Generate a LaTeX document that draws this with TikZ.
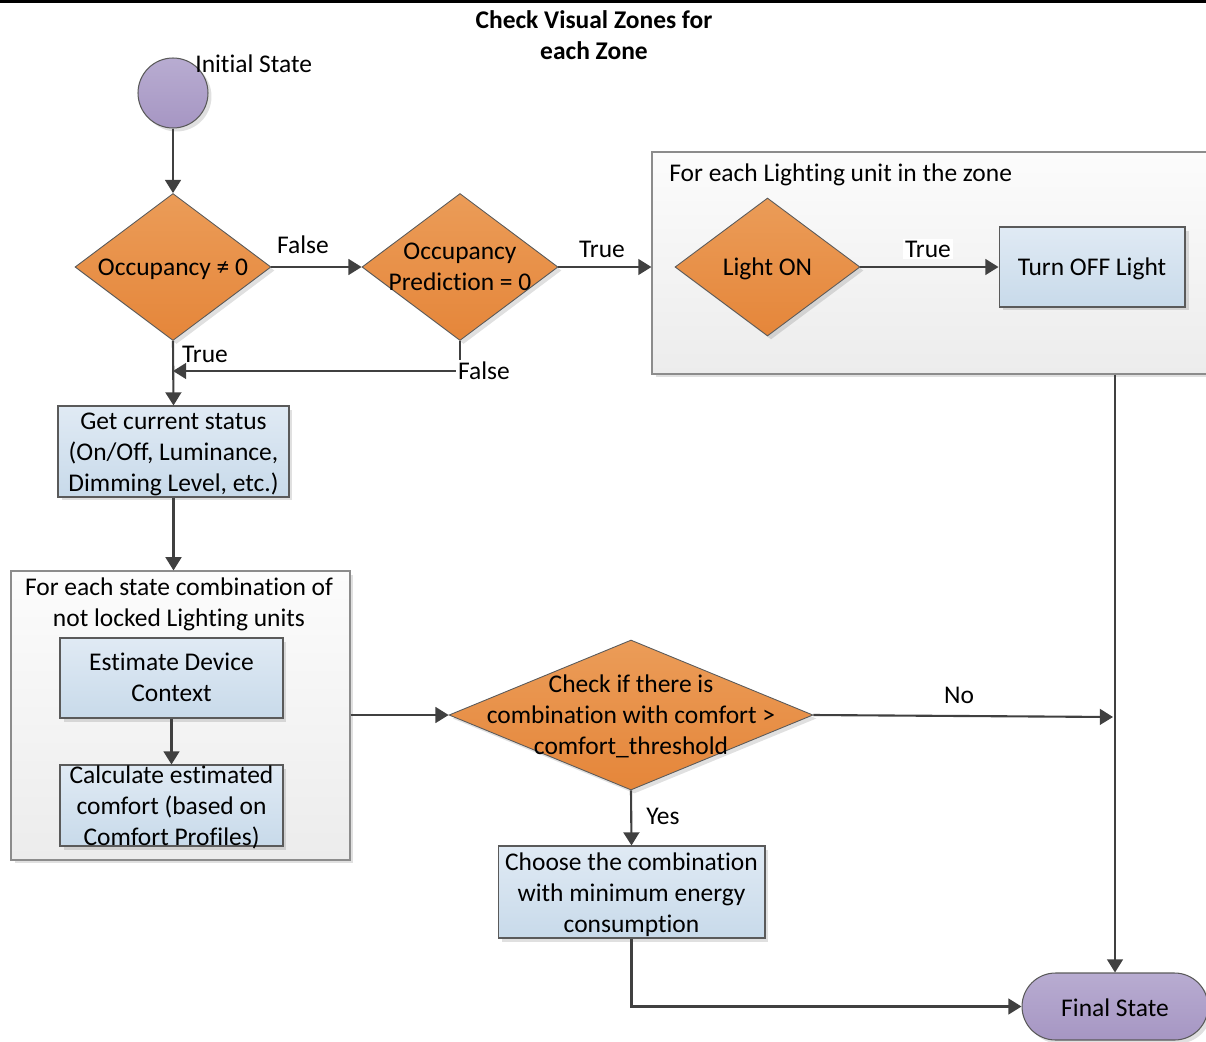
\documentclass[tikz,border=0pt]{standalone}
\usepackage{fontspec}
\setmainfont{Carlito}[Ligatures=NoCommon]
\usetikzlibrary{arrows.meta,shapes.geometric,shadows}

\definecolor{linegray}{HTML}{404040}
\definecolor{edgegray}{HTML}{5A5A5A}
\definecolor{frame}{HTML}{8C8C8C}
\definecolor{orangetop}{HTML}{EB9C58}
\definecolor{orangebot}{HTML}{E5863A}
\definecolor{bluetop}{HTML}{E0EAF4}
\definecolor{bluebot}{HTML}{C8DAEA}
\definecolor{purptop}{HTML}{B8ACD1}
\definecolor{purpbot}{HTML}{A696C3}
\definecolor{boxtop}{HTML}{FCFCFC}
\definecolor{boxbot}{HTML}{ECECEC}

\tikzset{
  x=0.02cm, y=-0.02cm,
  txt/.style={font={\fontsize{14.5}{17.6}\selectfont}, inner sep=0pt, align=center},
  softshadow/.style={drop shadow={shadow xshift=0.07cm, shadow yshift=-0.07cm, fill=black, opacity=0.12}},
  decision/.style={diamond, draw=edgegray, line width=0.5pt, top color=orangetop, bottom color=orangebot,
    inner sep=0pt, softshadow},
  process/.style={rectangle, draw=edgegray, line width=0.6pt, top color=bluetop, bottom color=bluebot,
    inner sep=0pt, softshadow},
  loopbox/.style={rectangle, draw=frame, line width=0.7pt, top color=boxtop, bottom color=boxbot,
    inner sep=0pt, softshadow},
  terminal/.style={draw=edgegray, line width=0.6pt, top color=purptop, bottom color=purpbot,
    inner sep=0pt, softshadow},
  flow/.style={draw=linegray, line width=1.2pt, -{Triangle[length=7.5pt,width=9pt]}},
  edgelabel/.style={txt},
}

\begin{document}
\begin{tikzpicture}
\useasboundingbox (0,0) rectangle (1206,1041);
\clip (0,0) rectangle (1206,1041);

% top rule
\fill[black] (0,0) rectangle (1206,2.5);

% title
\node[txt, font={\fontsize{14.5}{17.6}\selectfont\bfseries}] (title) at (594,35)
  {Check Visual Zones for\\each Zone};

% start state
\node[circle, terminal, minimum size=1.4cm] (init) at (173,93) {};
\node[txt, anchor=west] (initlbl) at (195,64) {Initial State};

% occupancy decisions
\node[decision, minimum width=3.92cm, minimum height=2.94cm] (d1) at (173,267) {};
\node[txt] (d1t) at (173,269) {Occupancy ≠ 0};
\node[decision, minimum width=3.92cm, minimum height=2.94cm] (d2) at (460,267) {};
\node[txt] (d2t) at (460,267) {Occupancy\\Prediction = 0};

% loop over lighting units
\node[loopbox, minimum width=11.4cm, minimum height=4.44cm] (c1) at (937,263) {};
\node[txt, anchor=west] (c1t) at (669,175) {For each Lighting unit in the zone};
\node[decision, minimum width=3.7cm, minimum height=2.76cm] (d3) at (767.5,267) {};
\node[txt] (d3t) at (767.5,269) {Light ON};
\node[process, minimum width=3.72cm, minimum height=1.6cm] (off) at (1092,267) {};
\node[txt] (offt) at (1092,269) {Turn OFF Light};

% current status
\node[process, minimum width=4.62cm, minimum height=1.82cm] (get) at (173.5,451.5) {};
\node[txt] (gett) at (173.5,454.5) {Get current status\\(On/Off, Luminance,\\Dimming Level, etc.)};

% loop over state combinations
\node[loopbox, minimum width=6.78cm, minimum height=5.78cm] (c2) at (180.5,715.5) {};
\node[txt] (c2t) at (179,604) {For each state combination of\\not locked Lighting units};
\node[process, minimum width=4.46cm, minimum height=1.6cm] (est) at (171.5,678) {};
\node[txt] (estt) at (171.5,677.5) {Estimate Device\\Context};
\node[process, minimum width=4.46cm, minimum height=1.62cm] (calc) at (171.5,805.5) {};
\node[txt] (calct) at (171.5,807.5) {Calculate estimated\\comfort (based on\\Comfort Profiles)};

% comfort decision
\node[decision, minimum width=7.28cm, minimum height=3.0cm] (d4) at (631,715) {};
\node[txt] (d4t) at (631,716) {Check if there is\\combination with comfort >\\comfort\_threshold};
\node[process, minimum width=5.34cm, minimum height=1.84cm] (choose) at (631.5,892) {};
\node[txt] (chooset) at (631.5,894.5) {Choose the combination\\with minimum energy\\consumption};

% end state
\node[terminal, rectangle, rounded corners=0.67cm, minimum width=3.72cm, minimum height=1.34cm]
  (final) at (1115,1006.5) {};
\node[txt] (finalt) at (1115,1008) {Final State};

% connectors
\coordinate (merge) at (173,371);
\coordinate (nojoin) at (1113,717);

\draw[flow] (init) -- (d1.north);
\draw[flow] (d1.east) -- (d2.west);
\node[edgelabel] (lfalse1) at (303,245) {False};
\draw[flow] (d2.east) -- (d2.east -| c1.west);
\node[edgelabel] (ltrue1) at (602,249) {True};
\draw[flow] (d3.east) -- (off.west);
\node[edgelabel, fill=white, inner sep=1pt] (ltrue2) at (928,249) {True};

\draw[flow] (d1.south) -- (get.north);
\node[edgelabel] (ltrue3) at (205,354) {True};
\draw[flow] (d2.south) |- (merge);
\node[edgelabel, fill=white, inner sep=1pt] (lfalse2) at (484,371) {False};

\draw[flow] (get.south) -- (get.south |- c2.north);
\draw[flow] (est.south) -- (calc.north);
\draw[flow] (c2.east |- d4.west) -- (d4.west);
\draw[flow] (d4.east) -- (nojoin);
\node[edgelabel] (lno) at (959,695) {No};
\draw[flow] (d4.south) -- (choose.north);
\node[edgelabel] (lyes) at (663,816) {Yes};

\draw[flow] (final.north |- c1.south) -- (final.north);
\draw[flow] (choose.south) |- (final.west);
\end{tikzpicture}
\end{document}
